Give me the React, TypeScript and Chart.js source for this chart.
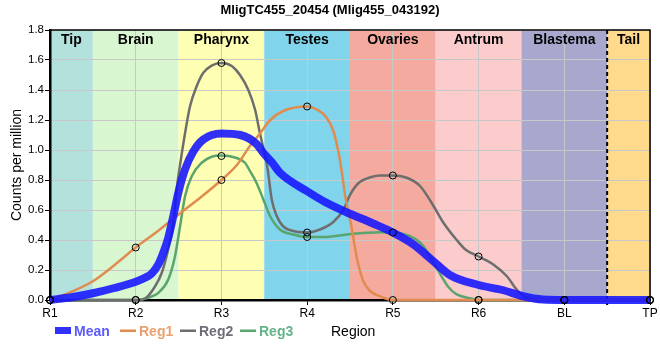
import React, { useEffect, useRef } from "react";
import { Chart, registerables } from "chart.js";

Chart.register(...registerables);

const chartTitle = "MligTC455_20454 (Mlig455_043192)";
const xAxisTitle = "Region";
const yAxisTitle = "Counts per million";
const categories = ["R1", "R2", "R3", "R4", "R5", "R6", "BL", "TP"];
const regionNames = ["Tip", "Brain", "Pharynx", "Testes", "Ovaries", "Antrum", "Blastema", "Tail"];
const regionBounds = [0, 0.5, 1.5, 2.5, 3.5, 4.5, 5.5, 6.5, 7];
const regionColors = ["#b3e2dd", "#d8f6d0", "#ffffb4", "#80d4ec", "#f4aa9e", "#fccccc", "#a8a8ce", "#ffda8c"];
const dashedBoundary = 6.5;
const yMax = 1.8;
const yStep = 0.2;

// marker values at each region
const reg1Values = [0, 0.35, 0.8, 1.29, 0, 0, 0, 0];
const reg2Values = [0, 0, 1.58, 0.45, 0.83, 0.29, 0, 0];
const reg3Values = [0, 0, 0.96, 0.42, 0.45, 0, 0, 0];

// smoothed curves: [region position, value]
const meanCurve: [number, number][] = [
  [0, 0], [0.25, 0.018], [0.5, 0.045], [0.75, 0.08], [1, 0.122], [1.108, 0.148], [1.187, 0.177],
  [1.264, 0.237], [1.322, 0.315], [1.38, 0.415], [1.439, 0.56], [1.497, 0.715], [1.575, 0.87],
  [1.672, 0.99], [1.789, 1.07], [2, 1.11], [2.22, 1.1], [2.41, 1.04], [2.49, 0.98], [2.6, 0.91],
  [2.68, 0.85], [3, 0.725], [3.22, 0.65], [3.46, 0.585], [3.77, 0.51], [4, 0.45], [4.24, 0.37],
  [4.47, 0.26], [4.67, 0.165], [5, 0.1], [5.29, 0.065], [5.52, 0.025], [5.75, 0.003], [6, 0], [7, 0],
];
const reg1Curve: [number, number][] = [
  [0, 0], [0.175, 0.037], [0.5, 0.125], [0.76, 0.237], [1, 0.35], [1.26, 0.46], [1.5, 0.57],
  [1.77, 0.69], [2, 0.8], [2.18, 0.9], [2.33, 1.025], [2.45, 1.11], [2.57, 1.2], [2.72, 1.26],
  [3, 1.29], [3.112, 1.27], [3.228, 1.215], [3.306, 1.125], [3.364, 0.99], [3.403, 0.86],
  [3.442, 0.7], [3.481, 0.59], [3.52, 0.48], [3.558, 0.35], [3.597, 0.237], [3.656, 0.125],
  [3.734, 0.06], [3.85, 0.025], [4, 0], [7, 0],
];
const reg2Curve: [number, number][] = [
  [0, 0], [1, 0], [1.108, 0.01], [1.225, 0.09], [1.303, 0.18], [1.38, 0.34], [1.439, 0.51],
  [1.478, 0.74], [1.517, 0.9], [1.575, 1.11], [1.633, 1.29], [1.711, 1.425], [1.789, 1.515],
  [1.886, 1.563], [2, 1.58], [2.12, 1.56], [2.217, 1.5], [2.314, 1.4], [2.392, 1.27], [2.45, 1.11],
  [2.51, 0.96], [2.54, 0.87], [2.587, 0.67], [2.645, 0.56], [2.722, 0.49], [2.839, 0.46], [3, 0.45],
  [3.15, 0.47], [3.305, 0.52], [3.422, 0.6], [3.5, 0.7], [3.6, 0.78], [3.75, 0.82], [3.85, 0.83],
  [4, 0.83], [4.162, 0.815], [4.317, 0.76], [4.45, 0.65], [4.59, 0.515], [4.745, 0.4], [4.85, 0.335],
  [5, 0.29], [5.172, 0.237], [5.328, 0.16], [5.445, 0.07], [5.562, 0.015], [5.7, 0], [7, 0],
];
const reg3Curve: [number, number][] = [
  [0, 0], [1, 0], [1.147, 0.015], [1.264, 0.048], [1.38, 0.137], [1.458, 0.29], [1.517, 0.49],
  [1.575, 0.69], [1.653, 0.825], [1.77, 0.915], [1.886, 0.955], [2, 0.963], [2.158, 0.95],
  [2.275, 0.915], [2.333, 0.86], [2.41, 0.78], [2.489, 0.67], [2.567, 0.56], [2.683, 0.47],
  [2.839, 0.437], [3, 0.42], [3.228, 0.42], [3.462, 0.437], [3.695, 0.448], [3.85, 0.452], [4, 0.45],
  [4.2, 0.425], [4.356, 0.36], [4.473, 0.25], [4.589, 0.137], [4.65, 0.085], [4.745, 0.037],
  [4.9, 0.012], [5, 0], [7, 0],
];

const seriesNames = ["Mean", "Reg1", "Reg2", "Reg3"];
const lineColors = ["rgba(20,20,255,0.88)", "#e08c50", "#6e6e6e", "#5aa56e"];
const legendTextColors = ["#5a5aff", "#eca070", "#6e6e78", "#64b48a"];

const FONT = "'Liberation Sans', Arial, sans-serif";

export default function App() {
  const ref = useRef<HTMLCanvasElement>(null);

  useEffect(() => {
    const canvas = ref.current;
    if (!canvas) return;
    const pts = (arr: [number, number][]) => arr.map(([x, y]) => ({ x, y }));
    const marks = (vals: number[]) => vals.map((y, i) => ({ x: i, y }));

    const decor = {
      id: "decor",
      beforeDraw(chart: any) {
        const { ctx, chartArea, scales } = chart;
        const xs = scales.x;
        ctx.save();
        for (let i = 0; i < regionNames.length; i++) {
          const x0 = xs.getPixelForValue(regionBounds[i]);
          const x1 = xs.getPixelForValue(regionBounds[i + 1]);
          ctx.fillStyle = regionColors[i];
          ctx.fillRect(x0, chartArea.top, x1 - x0, chartArea.bottom - chartArea.top);
        }
        ctx.restore();
      },
      beforeDatasetsDraw(chart: any) {
        const { ctx, chartArea, scales } = chart;
        const xd = scales.x.getPixelForValue(dashedBoundary);
        ctx.save();
        ctx.strokeStyle = "#000";
        ctx.lineWidth = 2;
        ctx.setLineDash([4, 3]);
        ctx.beginPath();
        ctx.moveTo(xd, chartArea.top);
        ctx.lineTo(xd, chartArea.bottom + 5);
        ctx.stroke();
        ctx.restore();
      },
      afterDraw(chart: any) {
        const { ctx, chartArea, scales } = chart;
        const xs = scales.x;
        ctx.save();
        // top and right frame
        ctx.strokeStyle = "#000";
        ctx.lineWidth = 1.5;
        ctx.beginPath();
        ctx.moveTo(chartArea.left, chartArea.top);
        ctx.lineTo(chartArea.right, chartArea.top);
        ctx.lineTo(chartArea.right, chartArea.bottom);
        ctx.stroke();
        // title
        ctx.fillStyle = "#000";
        ctx.textAlign = "center";
        ctx.textBaseline = "alphabetic";
        ctx.font = `bold 13px ${FONT}`;
        ctx.fillText(chartTitle, 330, 13.5);
        // region labels
        ctx.font = `bold 14px ${FONT}`;
        for (let i = 0; i < regionNames.length; i++) {
          const xc = (xs.getPixelForValue(regionBounds[i]) + xs.getPixelForValue(regionBounds[i + 1])) / 2;
          ctx.fillText(regionNames[i], xc, chartArea.top + 14);
        }
        // legend
        const swatchX = [55, 120, 180, 240];
        const textX = [74, 139, 199, 259];
        const baseY = 335.5;
        ctx.textAlign = "left";
        for (let i = 0; i < seriesNames.length; i++) {
          ctx.fillStyle = lineColors[i];
          if (i === 0) ctx.fillRect(swatchX[i], 327, 16, 7);
          else ctx.fillRect(swatchX[i], 329.5, 16, 2.5);
          ctx.fillStyle = legendTextColors[i];
          ctx.font = `bold 14px ${FONT}`;
          ctx.fillText(seriesNames[i], textX[i], baseY);
        }
        // x axis title
        ctx.fillStyle = "#000";
        ctx.font = `14px ${FONT}`;
        ctx.fillText(xAxisTitle, 331, baseY + 0.5);
        ctx.restore();
      },
    };

    const curveDs = (label: string, data: [number, number][], color: string, width: number) => ({
      label,
      data: pts(data),
      borderColor: color,
      backgroundColor: color,
      borderWidth: width,
      pointRadius: 0,
      cubicInterpolationMode: "monotone" as const,
      fill: false,
      clip: false as any,
    });
    const markDs = (vals: number[]) => ({
      label: "",
      data: marks(vals),
      showLine: false,
      pointRadius: 3.5,
      pointBorderWidth: 1,
      pointBorderColor: "#000",
      pointBackgroundColor: "rgba(0,0,0,0)",
      clip: false as any,
    });

    const chart = new Chart(canvas, {
      type: "line",
      data: {
        datasets: [
          markDs(reg1Values),
          markDs(reg2Values),
          markDs(reg3Values),
          curveDs(seriesNames[0], meanCurve, lineColors[0], 8),
          curveDs(seriesNames[1], reg1Curve, lineColors[1], 2.5),
          curveDs(seriesNames[2], reg2Curve, lineColors[2], 2.5),
          curveDs(seriesNames[3], reg3Curve, lineColors[3], 2.5),
        ] as any,
      },
      options: {
        responsive: false,
        animation: false,
        devicePixelRatio: 1,
        layout: { padding: { top: 30, right: 10, left: 0, bottom: 0 } },
        plugins: {
          legend: { display: false },
          title: { display: false },
          tooltip: { enabled: false },
        },
        scales: {
          x: {
            type: "linear",
            min: 0,
            max: categories.length - 1,
            afterFit: (s: any) => { s.height = 60; },
            grid: { color: "#c8c8c8", lineWidth: 1, tickColor: "#000", tickLength: 5, drawTicks: true },
            border: { display: true, color: "#000", width: 2.5 },
            ticks: {
              stepSize: 1,
              autoSkip: false,
              maxRotation: 0,
              padding: 1,
              color: "#000",
              font: { family: FONT, size: 12 },
              callback: (v: any) => categories[Number(v)] ?? "",
            },
          },
          y: {
            type: "linear",
            min: 0,
            max: yMax,
            afterFit: (s: any) => { s.width = 50; },
            grid: { color: "#c8c8c8", lineWidth: 1, tickColor: "#000", tickLength: 5, drawTicks: true },
            border: { display: true, color: "#000", width: 2.5 },
            ticks: {
              stepSize: yStep,
              padding: 1,
              color: "#000",
              font: { family: FONT, size: 11.5 },
              callback: (v: any) => Number(v).toFixed(1),
            },
            title: {
              display: true,
              text: yAxisTitle,
              color: "#000",
              font: { family: FONT, size: 14 },
              padding: { top: 9, bottom: 0 },
            },
          },
        },
      },
      plugins: [decor],
    });
    return () => chart.destroy();
  }, []);

  return (
    <div style={{ position: "absolute", left: 0, top: 0, width: 660, height: 360, background: "#fff" }}>
      <canvas ref={ref} width={660} height={360} style={{ display: "block" }} />
    </div>
  );
}
